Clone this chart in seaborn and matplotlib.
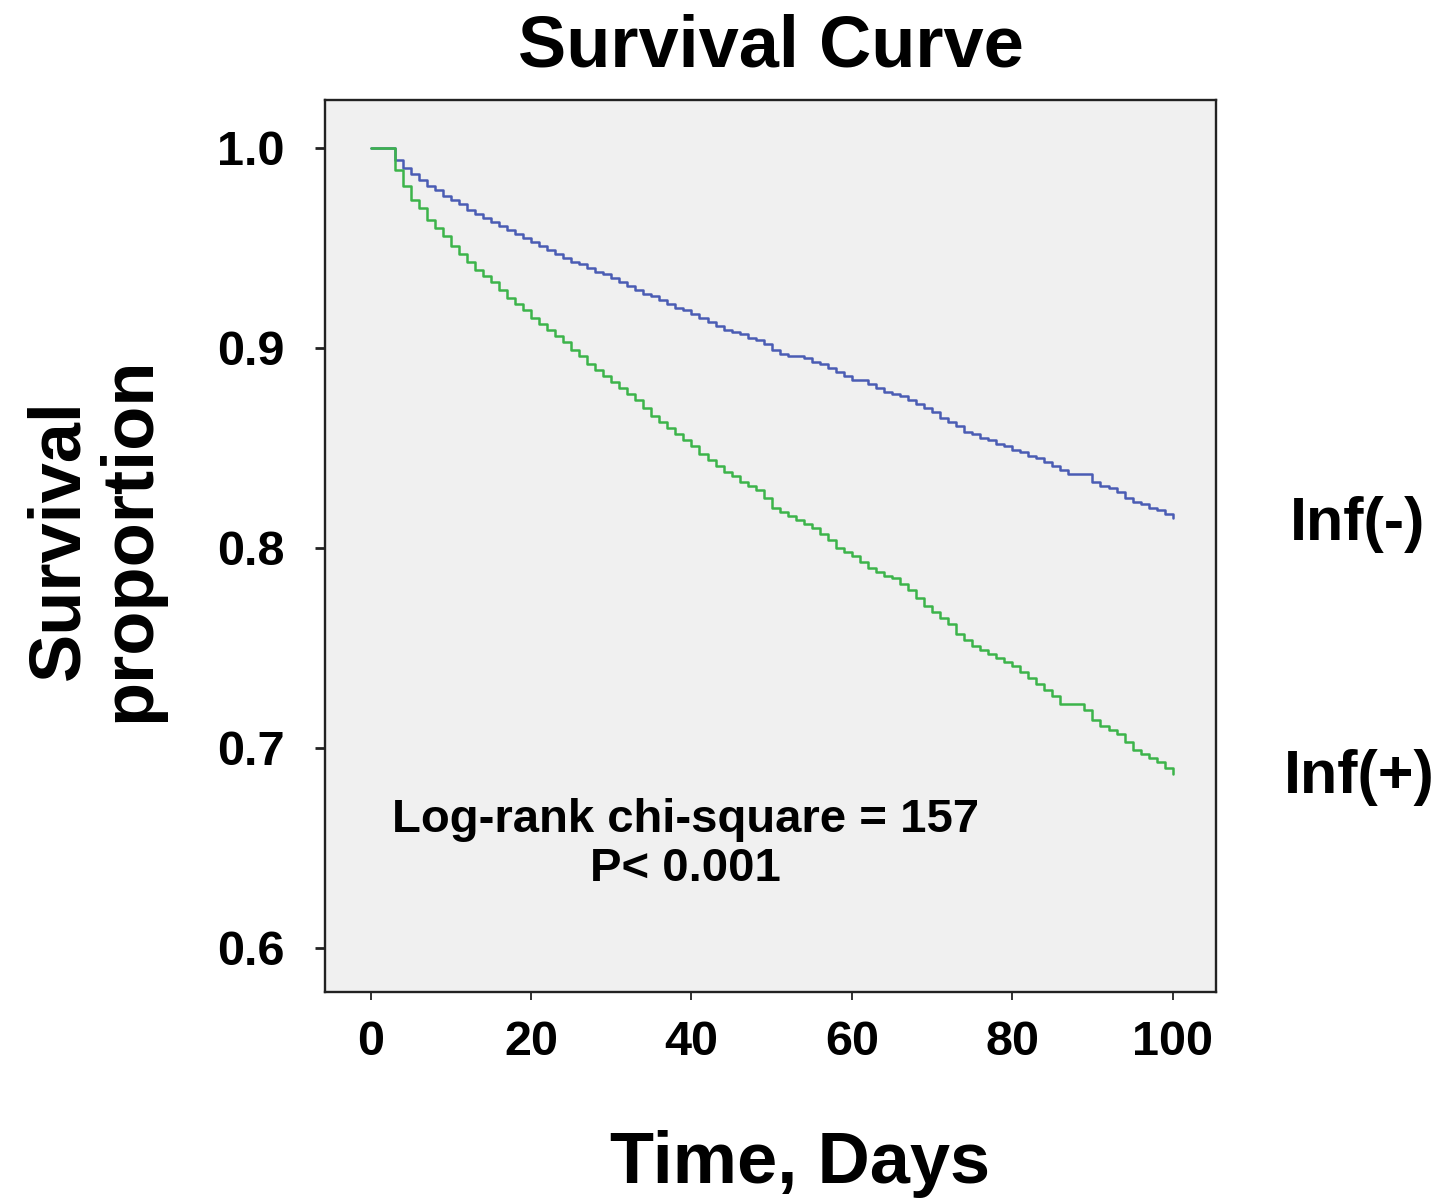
"""Kaplan-Meier style survival curve, Inf(-) vs Inf(+)."""

import matplotlib
matplotlib.use("Agg")
import matplotlib.pyplot as plt
import numpy as np
import pandas as pd
import seaborn as sns

# step times (days) and survival proportion
days = [0] + list(range(3, 101))

surv_neg = [1.000,
            0.994, 0.990, 0.987, 0.984, 0.981, 0.979, 0.976, 0.974, 0.972, 0.969,
            0.967, 0.965, 0.963, 0.961, 0.959, 0.957, 0.955, 0.953, 0.951, 0.949,
            0.947, 0.945, 0.943, 0.942, 0.940, 0.938, 0.937, 0.935, 0.933, 0.931,
            0.929, 0.927, 0.926, 0.924, 0.922, 0.920, 0.919, 0.917, 0.915, 0.913,
            0.911, 0.909, 0.908, 0.907, 0.905, 0.904, 0.902, 0.899, 0.897, 0.896,
            0.896, 0.895, 0.893, 0.892, 0.890, 0.888, 0.886, 0.884, 0.884, 0.882,
            0.880, 0.878, 0.877, 0.876, 0.874, 0.872, 0.870, 0.868, 0.865, 0.863,
            0.861, 0.858, 0.857, 0.855, 0.854, 0.852, 0.851, 0.849, 0.848, 0.846,
            0.845, 0.843, 0.841, 0.839, 0.837, 0.837, 0.837, 0.833, 0.831, 0.830,
            0.828, 0.825, 0.823, 0.822, 0.820, 0.819, 0.817, 0.815]

surv_pos = [1.000,
            0.989, 0.981, 0.974, 0.970, 0.964, 0.960, 0.956, 0.951, 0.947, 0.943,
            0.939, 0.936, 0.933, 0.929, 0.925, 0.922, 0.919, 0.915, 0.912, 0.909,
            0.906, 0.903, 0.899, 0.896, 0.892, 0.889, 0.886, 0.883, 0.880, 0.877,
            0.874, 0.870, 0.866, 0.863, 0.860, 0.857, 0.854, 0.851, 0.847, 0.844,
            0.841, 0.838, 0.836, 0.833, 0.831, 0.829, 0.825, 0.820, 0.818, 0.816,
            0.814, 0.812, 0.810, 0.807, 0.804, 0.800, 0.798, 0.796, 0.793, 0.790,
            0.788, 0.786, 0.785, 0.782, 0.779, 0.775, 0.771, 0.768, 0.765, 0.762,
            0.757, 0.754, 0.751, 0.749, 0.747, 0.745, 0.743, 0.741, 0.738, 0.735,
            0.732, 0.729, 0.726, 0.722, 0.722, 0.722, 0.719, 0.714, 0.711, 0.709,
            0.707, 0.703, 0.699, 0.697, 0.695, 0.693, 0.690, 0.687]

groups = ["Inf(-)", "Inf(+)"]
colors = {"Inf(-)": "#4a5cb4", "Inf(+)": "#3cb44a"}
x_ticks = [0, 20, 40, 60, 80, 100]
y_ticks = [0.6, 0.7, 0.8, 0.9, 1.0]

df = pd.concat([
    pd.DataFrame({"time": days, "survival": surv_neg, "group": groups[0]}),
    pd.DataFrame({"time": days, "survival": surv_pos, "group": groups[1]}),
], ignore_index=True)

sns.set_style("white")
plt.rcParams["font.family"] = ["Liberation Sans", "DejaVu Sans"]
plt.rcParams["font.weight"] = "bold"
plt.rcParams["text.color"] = "black"
plt.rcParams["axes.labelcolor"] = "black"

fig = plt.figure(figsize=(14.54, 11.98), dpi=100)
ax = fig.add_axes([0.2235, 0.172, 0.6128, 0.7446])
ax.set_facecolor("#f0f0f0")

sns.lineplot(data=df, x="time", y="survival", hue="group", palette=colors,
             estimator=None, sort=False, drawstyle="steps-post",
             linewidth=1.8, legend=False, ax=ax)

ax.set_xlim(-5.7, 105.4)
ax.set_ylim(0.578, 1.024)
ax.set_xticks(x_ticks)
ax.set_yticks(y_ticks)
ax.set_yticklabels([f"{v:.1f}" for v in y_ticks])

for s in ax.spines.values():
    s.set_color("#222222")
    s.set_linewidth(1.7)
ax.tick_params(axis="both", which="major", direction="out", bottom=True, left=True,
               color="#222222", labelsize=35, labelcolor="black")
ax.tick_params(axis="y", length=7, width=2.0, pad=22)
ax.tick_params(axis="x", length=6, width=1.3, pad=14)
for lab in ax.get_xticklabels() + ax.get_yticklabels():
    lab.set_fontweight("bold")

ax.set_title("Survival Curve", fontsize=52, fontweight="bold", pad=24, color="black")
ax.set_xlabel("Time, Days", fontsize=52, fontweight="bold")
ax.xaxis.set_label_coords(0.533, -0.155)
ax.set_ylabel("Survival\nproportion", fontsize=52, fontweight="bold", linespacing=1.05)
ax.yaxis.set_label_coords(-0.18, 0.507)

ax.text(39.3, 0.6515, "Log-rank chi-square = 157\nP< 0.001", ha="center", va="center",
        fontsize=34, fontweight="bold", linespacing=1.15, color="black")

ax.text(123.0, 0.8115, "Inf(-)", ha="center", va="center", fontsize=44,
        fontweight="bold", clip_on=False, color="black")
ax.text(123.3, 0.685, "Inf(+)", ha="center", va="center", fontsize=44,
        fontweight="bold", clip_on=False, color="black")

fig.savefig("out.png", dpi=100)
